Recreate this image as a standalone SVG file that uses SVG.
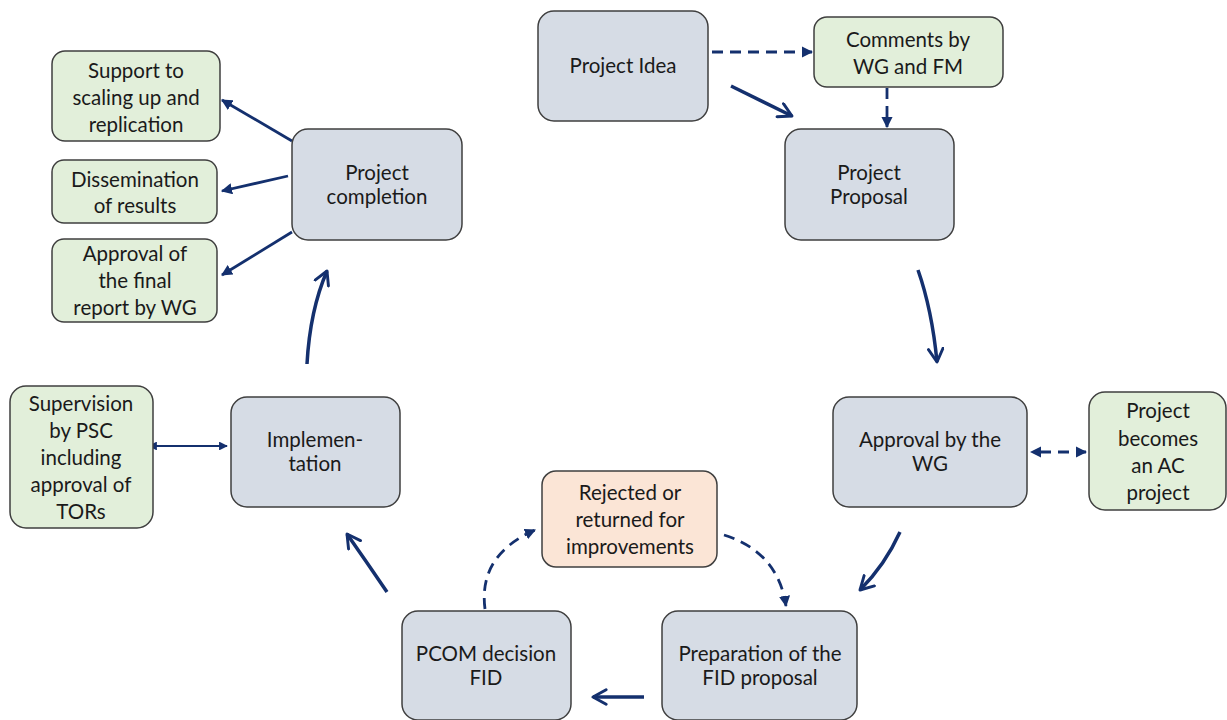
<svg xmlns="http://www.w3.org/2000/svg" width="1227" height="720" viewBox="0 0 1227 720">
<defs>
<style>
.n rect{stroke:#3f3f3f;stroke-width:1.5}
.b rect{fill:#d6dce5}
.g rect{fill:#e2efda}
.o rect{fill:#fbe5d6}
text{font-family:Lato,"Liberation Sans",sans-serif;font-size:20.5px;fill:#1a1a1a;text-anchor:middle}
.c path{fill:none;stroke:#14306e}
.thick{stroke-width:3.5}
.thin{stroke-width:2.8}
.dash{stroke-dasharray:11 7}
</style>
<marker id="ah" viewBox="0 0 10 10" refX="9" refY="5" markerWidth="4" markerHeight="4" orient="auto" markerUnits="strokeWidth">
<path d="M0,0 L10,5 L0,10 z" fill="#14306e"/>
</marker>
<marker id="ahs" viewBox="0 0 10 10" refX="1" refY="5" markerWidth="4" markerHeight="4" orient="auto-start-reverse" markerUnits="strokeWidth">
<path d="M0,0 L10,5 L0,10 z" fill="#14306e"/>
</marker>
<marker id="chev" viewBox="0 0 12 12" refX="10" refY="6" markerWidth="5" markerHeight="5" orient="auto" markerUnits="strokeWidth">
<path d="M1,1 L10,6 L1,11" fill="none" stroke="#14306e" stroke-width="2" stroke-linecap="round" stroke-linejoin="round"/>
</marker>
</defs>
<rect width="1227" height="720" fill="#ffffff"/>

<g id="connectors" class="c">
<path class="thin dash" d="M712,52 L812,52" marker-end="url(#ah)"/>
<path class="thin dash" d="M887,88 L887,127" marker-end="url(#ah)"/>
<path class="thick" d="M731,86 L792,116" marker-end="url(#chev)"/>
<path class="thick" d="M918,270 Q932,310 937,362" marker-end="url(#chev)"/>
<path class="thick" d="M900,532 Q885,565 860,590" marker-end="url(#chev)"/>
<path class="thin dash" d="M1040,452 L1086,452" marker-start="url(#ahs)" marker-end="url(#ah)"/>
<path class="thick" d="M644,697 L593,697" marker-end="url(#chev)"/>
<path class="thin dash" d="M485,609 Q478,555 535,530" marker-end="url(#ah)"/>
<path class="thin dash" d="M724,535 Q778,552 786,606" marker-end="url(#ah)"/>
<path class="thick" d="M387,592 Q368,564 347,534" marker-end="url(#chev)"/>
<path class="thick" d="M307,364 Q310,310 327,271" marker-end="url(#chev)"/>
<path d="M156,446 L227,446" stroke-width="2.2" marker-start="url(#ahs)" marker-end="url(#ah)"/>
<path class="thin" d="M292,141 L222,100" marker-end="url(#ah)"/>
<path class="thin" d="M288,176 L222,191" marker-end="url(#ah)"/>
<path class="thin" d="M292,232 L222,275" marker-end="url(#ah)"/>
</g>

<g id="project-idea" class="n b"><rect x="538" y="11" width="170" height="110" rx="16"/><text x="623" y="73">Project Idea</text></g>
<g id="comments" class="n g"><rect x="814" y="17" width="189" height="70" rx="13"/><text x="908" y="47">Comments by</text><text x="908" y="74">WG and FM</text></g>
<g id="project-proposal" class="n b"><rect x="785" y="129" width="169" height="111" rx="16"/><text x="869" y="180">Project</text><text x="869" y="204">Proposal</text></g>
<g id="approval-wg" class="n b"><rect x="833" y="397" width="194" height="110" rx="16"/><text x="930" y="447">Approval by the</text><text x="930" y="471">WG</text></g>
<g id="ac-project" class="n g"><rect x="1089" y="392" width="137" height="118" rx="16"/><text x="1158" y="418">Project</text><text x="1158" y="446">becomes</text><text x="1158" y="473">an AC</text><text x="1158" y="500">project</text></g>
<g id="preparation" class="n b"><rect x="662" y="611" width="195" height="109" rx="16"/><text x="760" y="661">Preparation of the</text><text x="760" y="685">FID proposal</text></g>
<g id="pcom" class="n b"><rect x="402" y="611" width="169" height="109" rx="16"/><text x="486" y="661">PCOM decision</text><text x="486" y="685">FID</text></g>
<g id="rejected" class="n o"><rect x="542" y="471" width="175" height="96" rx="14"/><text x="630" y="500">Rejected or</text><text x="630" y="527">returned for</text><text x="630" y="554">improvements</text></g>
<g id="implementation" class="n b"><rect x="231" y="397" width="169" height="110" rx="16"/><text x="315" y="447">Implemen-</text><text x="315" y="471">tation</text></g>
<g id="supervision" class="n g"><rect x="10" y="386" width="143" height="142" rx="16"/><text x="81" y="411">Supervision</text><text x="81" y="438">by PSC</text><text x="81" y="465">including</text><text x="81" y="492">approval of</text><text x="81" y="519">TORs</text></g>
<g id="completion" class="n b"><rect x="292" y="129" width="170" height="111" rx="16"/><text x="377" y="180">Project</text><text x="377" y="204">completion</text></g>
<g id="scaling" class="n g"><rect x="52" y="51" width="168" height="90" rx="13"/><text x="136" y="78">Support to</text><text x="136" y="105">scaling up and</text><text x="136" y="132">replication</text></g>
<g id="dissemination" class="n g"><rect x="52" y="160" width="165" height="63" rx="12"/><text x="135" y="187">Dissemination</text><text x="135" y="213">of results</text></g>
<g id="final-report" class="n g"><rect x="52" y="239" width="165" height="83" rx="12"/><text x="135" y="261">Approval of</text><text x="135" y="288">the final</text><text x="135" y="315">report by WG</text></g>
</svg>
